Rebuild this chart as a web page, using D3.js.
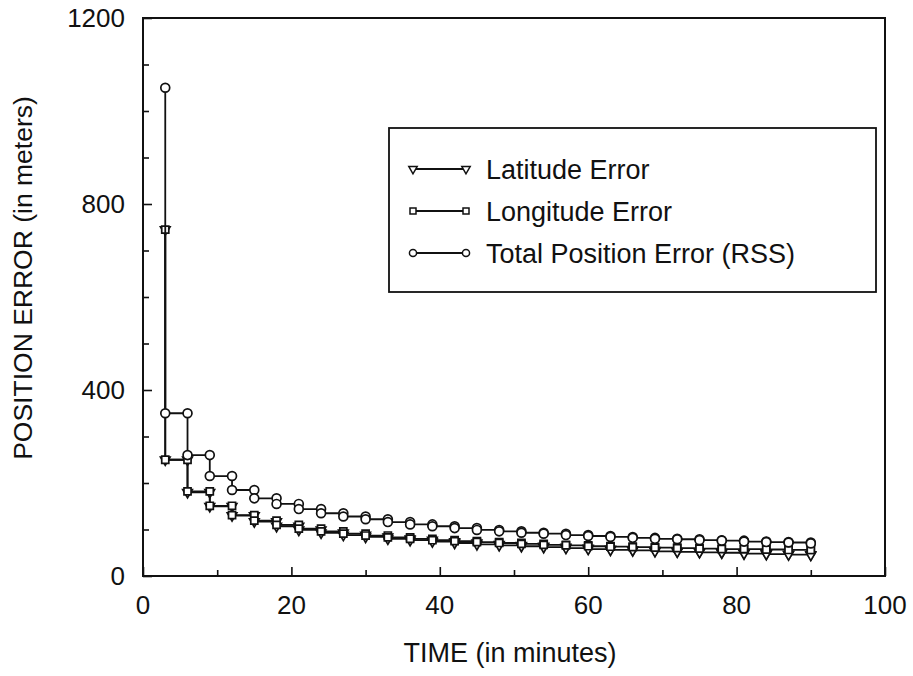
<html>
<head>
<meta charset="utf-8">
<title>Position error</title>
<script src="https://cdn.jsdelivr.net/npm/d3@7/dist/d3.min.js"></script>
<style>
  html, body { margin: 0; padding: 0; background: #fff; }
  svg text { font-family: "Liberation Sans", Arial, Helvetica, sans-serif; fill: #111; }
</style>
</head>
<body>
<svg width="913" height="676" id="mainsvg"></svg>
<script>
// sample times (minutes)
const times = [3, 6, 9, 12, 15, 18, 21, 24, 27, 30, 33, 36, 39, 42, 45,
               48, 51, 54, 57, 60, 63, 66, 69, 72, 75, 78, 81, 84, 87, 90];
// errors right after each update (meters)
const latitudeError = [250, 180, 150, 130, 117, 107, 99, 93, 88, 84, 80, 77, 74, 71, 68,
                       66, 64, 62, 60, 58, 56, 55, 53, 52, 51, 50, 48, 47, 46, 45];
const longitudeError = [250, 182, 151, 131, 119, 110, 102, 96, 91, 87, 83, 80, 77, 75, 73,
                        71, 69, 67, 66, 64, 63, 62, 61, 60, 59, 58, 58, 57, 56, 56];
const totalError = [350, 260, 215, 185, 167, 155, 144, 135, 128, 122, 116, 111, 107, 103, 99,
                    96, 93, 91, 88, 86, 84, 82, 80, 79, 77, 76, 74, 73, 72, 70];
// error before the first update
const initialError = {lat: 745, lon: 745, total: 1050};
const xTicks = [0, 20, 40, 60, 80, 100];
const yTicks = [0, 400, 800, 1200];

const svg = d3.select('#mainsvg');
const margin = {top: 18, right: 28, bottom: 100, left: 143};
const width = +svg.attr('width'), height = +svg.attr('height');
const innerWidth = width - margin.left - margin.right;
const innerHeight = height - margin.top - margin.bottom;
const g = svg.append('g').attr('transform', `translate(${margin.left},${margin.top})`);

const x = d3.scaleLinear().domain([0, 100]).range([0, innerWidth]);
const y = d3.scaleLinear().domain([0, 1200]).range([innerHeight, 0]);

// frame
g.append('rect').attr('width', innerWidth).attr('height', innerHeight)
  .attr('fill', 'none').attr('stroke', '#111').attr('stroke-width', 2);

// ticks (inward), minor + major
const xAxis = d3.axisBottom(x).tickValues(xTicks).tickSize(-9).tickFormat('');
const xMinor = d3.axisBottom(x).tickValues(d3.range(10, 100, 20)).tickSize(-6).tickFormat('');
const yAxis = d3.axisLeft(y).tickValues(yTicks).tickSize(-9).tickFormat('');
const yMinor = d3.axisLeft(y).tickValues(d3.range(100, 1200, 100).filter(v => v % 400)).tickSize(-6).tickFormat('');
[[xAxis, true], [xMinor, true], [yAxis, false], [yMinor, false]].forEach(([ax, isX]) => {
  const a = g.append('g').call(ax);
  if (isX) a.attr('transform', `translate(0,${innerHeight})`);
  a.select('.domain').remove();
  a.selectAll('line').attr('stroke', '#111').attr('stroke-width', 1.6);
});

// tick labels
g.selectAll('.xl').data(xTicks).join('text').attr('class', 'xl')
  .attr('x', d => x(d)).attr('y', innerHeight + 38).attr('text-anchor', 'middle')
  .attr('font-size', 26).text(d => d);
g.selectAll('.yl').data(yTicks).join('text').attr('class', 'yl')
  .attr('x', -18).attr('y', d => y(d) + 9).attr('text-anchor', 'end')
  .attr('font-size', 26).text(d => d);

svg.append('text').attr('x', margin.left + x(50) - 4).attr('y', 662)
  .attr('text-anchor', 'middle').attr('font-size', 27).text('TIME (in minutes)');
svg.append('text').attr('transform', 'translate(32,278) rotate(-90)')
  .attr('text-anchor', 'middle').attr('font-size', 26.5).text('POSITION ERROR (in meters)');

// step path: at each time, value before and after the update
function stepPoints(vals, first) {
  const pts = [];
  vals.forEach((v, i) => {
    pts.push([times[i], i === 0 ? first : vals[i - 1]]);
    pts.push([times[i], v]);
  });
  return pts;
}

const symbols = {
  lat: d3.symbol().type(d3.symbolTriangle).size(40),
  lon: d3.symbol().type(d3.symbolSquare).size(50),
  total: d3.symbol().type(d3.symbolCircle).size(62)
};
const legendSymbols = {
  lat: d3.symbol().type(d3.symbolTriangle).size(30),
  lon: d3.symbol().type(d3.symbolSquare).size(36),
  total: d3.symbol().type(d3.symbolCircle).size(40)
};
const rot = {lat: 180, lon: 0, total: 0};

const series = [
  {key: 'lat', name: 'Latitude Error', vals: latitudeError},
  {key: 'lon', name: 'Longitude Error', vals: longitudeError},
  {key: 'total', name: 'Total Position Error (RSS)', vals: totalError}
];

const line = d3.line().x(d => x(d[0])).y(d => y(d[1]));
series.forEach(s => {
  const pts = stepPoints(s.vals, initialError[s.key]);
  g.append('path').datum(pts).attr('d', line)
    .attr('fill', 'none').attr('stroke', '#111').attr('stroke-width', 1.8);
  g.selectAll('.m-' + s.key).data(pts).join('path').attr('class', 'm-' + s.key)
    .attr('transform', d => `translate(${x(d[0])},${y(d[1])}) rotate(${rot[s.key]})`)
    .attr('d', symbols[s.key]())
    .attr('fill', '#fff').attr('stroke', '#111').attr('stroke-width', 1.7);
});

// legend
const lg = svg.append('g').attr('transform', 'translate(389,128)');
lg.append('rect').attr('width', 487).attr('height', 164)
  .attr('fill', '#fff').attr('stroke', '#111').attr('stroke-width', 1.8);
series.forEach((s, i) => {
  const cy = 41 + i * 42;
  lg.append('line').attr('x1', 24).attr('x2', 77).attr('y1', cy).attr('y2', cy)
    .attr('stroke', '#111').attr('stroke-width', 1.8);
  [24, 77].forEach(cx => {
    lg.append('path').attr('transform', `translate(${cx},${cy}) rotate(${rot[s.key]})`)
      .attr('d', legendSymbols[s.key]()).attr('fill', '#fff').attr('stroke', '#111').attr('stroke-width', 1.5);
  });
  lg.append('text').attr('x', 97).attr('y', cy + 10).attr('font-size', 27).text(s.name);
});
</script>
</body>
</html>
